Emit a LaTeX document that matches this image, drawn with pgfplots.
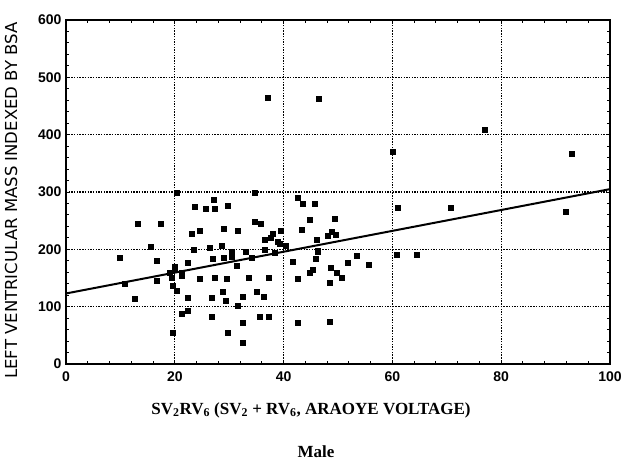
\documentclass[border=0pt]{standalone}
\usepackage{pgfplots}
\pgfplotsset{compat=1.18}
\usepackage{fontspec}
\setmainfont{Liberation Serif}
\setsansfont{Liberation Sans}
\newfontfamily\labfont{DejaVu Sans}
\begin{document}
\begin{tikzpicture}
\begin{axis}[
  scale only axis, width=544pt, height=344pt,
  xmin=0, xmax=100, ymin=0, ymax=600,
  xtick={0,20,40,60,80,100}, ytick={0,100,200,300,400,500,600},
  minor x tick num=4, minor y tick num=4,
  tick align=inside, major tick length=4pt, minor tick length=3pt,
  axis line style={line width=1.8pt},
  every tick/.style={black, line width=1pt},
  grid=major,
  major grid style={black, line width=1.3pt, dash pattern=on 1.4pt off 1.3pt},
  /pgf/number format/assume math mode=true,
  ticklabel style={font=\sffamily\bfseries\fontsize{14}{14}\selectfont},
  xticklabel style={yshift=-4pt},
  yticklabel style={xshift=-1pt},
  xlabel={SV\textsubscript{2}RV\textsubscript{6} (SV\textsubscript{2} + RV\textsubscript{6}, ARAOYE VOLTAGE)},
  xlabel style={font=\rmfamily\bfseries\fontsize{17}{17}\selectfont, at={(axis description cs:0.5,0)}, anchor=center, yshift=-46pt, xshift=-27pt},
  ylabel={LEFT VENTRICULAR MASS INDEXED BY BSA},
  ylabel style={font=\labfont\fontsize{16.5}{16.5}\selectfont, at={(axis description cs:0,0.475)}, anchor=center, yshift=55pt},
  clip=false,
]
\addplot[only marks, mark=square*, mark size=2.5pt, black] coordinates {
(37.1,465) (46.5,462) (77,408) (93,367) (60,370) (91.8,265) (70.8,272) (60.9,272)
(20.4,298) (34.6,299) (27.1,287) (23.7,275) (25.7,271) (27.4,271) (29.8,276)
(42.5,290) (43.6,280) (45.7,280) (13.1,245) (17.4,245) (44.8,251) (49.4,254)
(34.7,249) (35.7,245) (23.1,227) (24.6,232) (28.9,236) (31.5,232) (38.0,227)
(39.4,232) (43.4,234) (36.5,216) (37.6,220) (39.3,210) (40.4,206) (46.1,217)
(48.1,224) (48.8,230) (26.5,203) (28.7,207) (15.6,205) (9.8,186) (16.6,180)
(22.4,177) (27.0,184) (28.9,186) (30.5,188) (31.4,172) (34.2,185) (41.6,178)
(46.2,196) (45.9,184) (51.7,177) (53.5,189) (19.1,159) (20.0,164) (21.3,154)
(16.7,145) (10.7,140) (24.6,149) (27.4,151) (29.5,148) (33.5,150) (37.3,151)
(42.5,149) (44.8,159) (45.4,165) (48.6,168) (49.8,159) (50.6,151) (48.4,141)
(19.7,136) (20.4,128) (12.7,114) (22.4,115) (26.7,115) (28.8,126) (29.4,110)
(32.5,117) (35.0,126) (36.3,117) (31.5,102) (21.2,88) (22.3,93) (26.7,82)
(35.6,82) (37.2,83) (42.6,72) (48.5,74) (32.5,72) (29.8,54) (32.4,38) (19.7,54)
(55.7,173) (60.8,190) (64.5,190) (49.5,225) (38.4,194) (46.3,198) (21.2,160)
(19.5,150) (23.5,200) (30.5,196) (33.0,196) (36.5,200) (39.0,214) (20.0,170)
};
\addplot[black, line width=2pt] coordinates {(0,123) (100,305)};
\node[font=\rmfamily\bfseries\fontsize{17}{17}\selectfont] at (axis description cs:0.5,0) [yshift=-88pt, xshift=-22pt] {Male};
\end{axis}
\path[use as bounding box] (-66pt,-112pt) rectangle (561pt,364pt);
\end{tikzpicture}
\end{document}
